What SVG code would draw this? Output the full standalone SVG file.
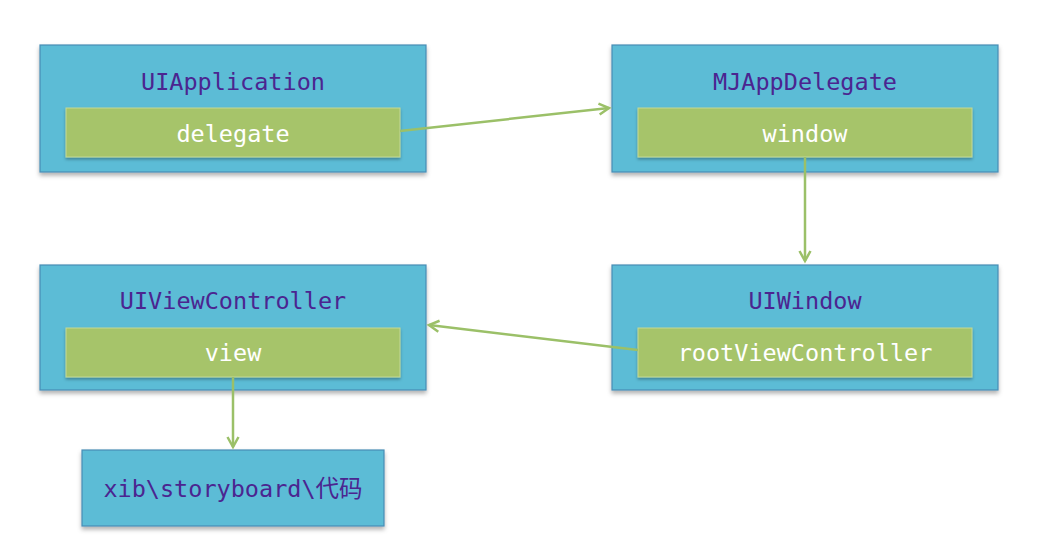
<svg xmlns="http://www.w3.org/2000/svg" width="1043" height="550" viewBox="0 0 1043 550">
<style>
.box{fill:#5BBCD6;stroke:#4A8DB5;stroke-width:1.2;filter:url(#sh)}
.inner{fill:#A6C46A;stroke:#C4D996;stroke-width:1;filter:url(#sh2)}
.title{font-family:"DejaVu Sans Mono",monospace;font-size:23.5px;fill:#4B2590;text-anchor:middle}
.lbl{font-family:"DejaVu Sans Mono",monospace;font-size:23.5px;fill:#FFFFFF;text-anchor:middle}
.cjk{font-family:"DejaVu Sans Mono","Noto Sans CJK SC",monospace;font-size:23.5px;fill:#4B2590;text-anchor:middle}
.conn{stroke:#9BC068;stroke-width:2.5;fill:none;marker-end:url(#arr)}
</style>
<defs>
<filter id="sh" x="-10%" y="-10%" width="120%" height="130%">
<feDropShadow dx="0" dy="3" stdDeviation="2" flood-color="#000" flood-opacity="0.3"/>
</filter>
<filter id="sh2" x="-10%" y="-10%" width="120%" height="140%">
<feDropShadow dx="0" dy="2" stdDeviation="1.5" flood-color="#000" flood-opacity="0.3"/>
</filter>
<marker id="arr" viewBox="0 0 12 12" refX="11" refY="6" markerWidth="12" markerHeight="12" orient="auto" markerUnits="userSpaceOnUse" overflow="visible">
<path d="M1,0.5 L11,6 L1,11.5" fill="none" stroke="#9BC068" stroke-width="2.5"/>
</marker>
</defs>
<g id="uiapplication">
<rect class="box" x="40" y="45" width="386" height="127"/>
<text class="title" x="233" y="90">UIApplication</text>
<rect class="inner" x="66" y="108" width="334" height="49"/>
<text class="lbl" x="233" y="142">delegate</text>
</g>
<g id="mjappdelegate">
<rect class="box" x="612" y="45" width="386" height="127"/>
<text class="title" x="805" y="90">MJAppDelegate</text>
<rect class="inner" x="638" y="108" width="334" height="49"/>
<text class="lbl" x="805" y="142">window</text>
</g>
<g id="uiviewcontroller">
<rect class="box" x="40" y="265" width="386" height="125"/>
<text class="title" x="233" y="309">UIViewController</text>
<rect class="inner" x="66" y="328" width="334" height="49"/>
<text class="lbl" x="233" y="361">view</text>
</g>
<g id="uiwindow">
<rect class="box" x="612" y="265" width="386" height="125"/>
<text class="title" x="805" y="309">UIWindow</text>
<rect class="inner" x="638" y="328" width="334" height="49"/>
<text class="lbl" x="805" y="361">rootViewController</text>
</g>
<g id="xib">
<rect class="box" x="82" y="450" width="302" height="76"/>
<text class="cjk" x="233" y="497">xib\storyboard\代码</text>
</g>
<g id="connectors">
<line class="conn" x1="400" y1="131" x2="609" y2="108"/>
<line class="conn" x1="805" y1="157" x2="805" y2="261"/>
<line class="conn" x1="638" y1="350" x2="429" y2="325"/>
<line class="conn" x1="233" y1="377" x2="233" y2="447"/>
</g>
</svg>
